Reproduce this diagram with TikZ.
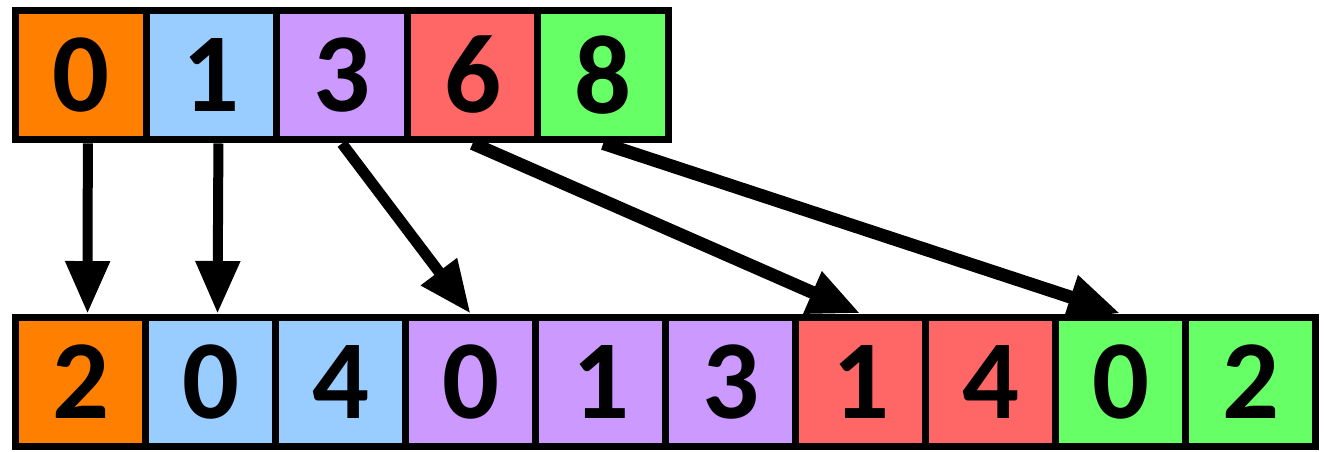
\documentclass[tikz,border=0pt]{standalone}
\usepackage{fontspec}
\setmainfont{Carlito}
\usetikzlibrary{arrows.meta}
\definecolor{cor}{HTML}{FF8000}
\definecolor{cbl}{HTML}{99CCFF}
\definecolor{cpu}{HTML}{CC99FF}
\definecolor{cre}{HTML}{FF6666}
\definecolor{cgr}{HTML}{66FF66}
\tikzset{
  cell/.style={draw=black, line width=0.14cm, minimum height=2.6cm, inner sep=0pt,
    font=\fontsize{64}{66}\selectfont\bfseries},
  topcell/.style={cell, minimum width=2.612cm},
  botcell/.style={cell, minimum width=2.6cm},
  conn/.style={line width=0.22cm, -{Triangle[length=1.05cm,width=0.85cm]}},
}
\begin{document}
\begin{tikzpicture}[x=0.02cm,y=-0.02cm]
\useasboundingbox (0,0) rectangle (1325,452);
% top row
\foreach \i/\c/\t in {0/cor/0,1/cbl/1,2/cpu/3,3/cre/6,4/cgr/8}{
  \node[topcell, fill=\c] (t\i) at ({15.5+65.3+130.6*\i},75) {\t};
}
% bottom row
\foreach \i/\c/\t in {0/cor/2,1/cbl/0,2/cbl/4,3/cpu/0,4/cpu/1,5/cpu/3,6/cre/1,7/cre/4,8/cgr/0,9/cgr/2}{
  \node[botcell, fill=\c] (b\i) at ({15.5+65+130*\i},382) {\t};
}
% connectors
\draw[conn, line width=0.2cm] ([xshift=4pt]t0.south) -- ([xshift=4pt]b0.north);
\draw[conn, line width=0.2cm] ([xshift=4pt]t1.south) -- ([xshift=4pt]b1.north);
\draw[conn] (t2.south) -- (b3.north);
\draw[conn, line width=0.26cm] (t3.south) -- (b6.north);
\draw[conn, line width=0.26cm] (t4.south) -- (b8.north);
\end{tikzpicture}
\end{document}
